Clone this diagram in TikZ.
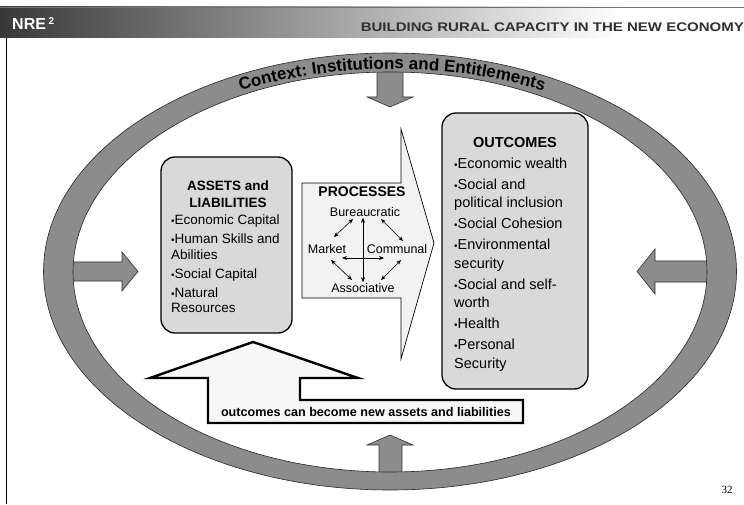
\documentclass[tikz,border=0pt]{standalone}
\usepackage{fontspec}
\setmainfont{Liberation Sans}
\newfontfamily\pagenumfont{Liberation Serif}
\usetikzlibrary{arrows.meta,calc,decorations.text}
\definecolor{ringgray}{HTML}{8C8C8C}
\definecolor{boxgray}{HTML}{D9D9D9}
\definecolor{procfill}{HTML}{F2F2F2}
\definecolor{fbfill}{HTML}{F7F7F7}
\definecolor{hdrtext}{HTML}{303030}
\definecolor{hdrdark}{HTML}{383838}
\newcommand{\bul}{{\fontsize{10}{10}\selectfont •}}
\begin{document}
\begin{tikzpicture}[x=1pt,y=1pt,
  garrow/.style={fill=ringgray, draw=black!80, line width=0.6pt},
  roundbox/.style={draw, line width=1.3pt, fill=boxgray, rounded corners=14pt, inner sep=0pt},
  proclabel/.style={font=\fontsize{12.5}{13}\selectfont, inner sep=1pt},
  procarrow/.style={{Stealth[length=5pt,width=4pt]}-{Stealth[length=5pt,width=4pt]}, line width=0.6pt}]
\useasboundingbox (0,0) rectangle (744,504);
% header
\shade[left color=hdrdark, right color=white] (0,466) rectangle (620,497);
\draw[black!55, line width=0.7pt] (0,497) -- (744,497);
\draw[line width=0.8pt] (6,466) -- (6,0);
\node[anchor=west, text=white, font=\bfseries\fontsize{16}{16}\selectfont, inner sep=0pt] (nre) at (12,480) {NRE\,\raisebox{5pt}{\fontsize{10}{10}\selectfont 2}};
\node[anchor=east, text=hdrtext, font=\bfseries\fontsize{12.5}{12.5}\selectfont, inner sep=0pt] (hdr) at (744,477) {\scalebox{1.2}[1]{BUILDING RURAL CAPACITY IN THE NEW ECONOMY}};
\node[font=\pagenumfont\fontsize{11}{11}\selectfont, inner sep=0pt] (pg) at (727,14) {32};

\begin{scope}[shift={(0,504)}, yscale=-1]
  % grey arrows (behind the ring)
  \path[garrow] (60,262) -- (122,262) -- (122,252) -- (138,271.5) -- (122,291) -- (122,281) -- (60,281) -- cycle;
  \path[garrow] (725,261) -- (655,261) -- (655,249) -- (637,271.5) -- (655,294) -- (655,282) -- (725,282) -- cycle;
  \path[garrow] (377,62) -- (377,97) -- (367,97) -- (390,107) -- (413,97) -- (403,97) -- (403,62) -- cycle;
  \path[garrow] (379,482) -- (379,445) -- (367,445) -- (390,435) -- (413,445) -- (402,445) -- (402,482) -- cycle;
  % ring
  \path[fill=ringgray, even odd rule, draw=black!85, line width=0.6pt]
    (390,271.5) ellipse [x radius=346.5, y radius=218.5]
    (390,272) ellipse [x radius=317, y radius=200];

  % assets box
  \node[roundbox, minimum width=131pt, minimum height=176pt] (assets) at (226.5,245) {};
  \node[font=\bfseries\fontsize{13.5}{16.5}\selectfont, align=center, inner sep=0pt] (assetsT) at (228,194) {ASSETS and\\LIABILITIES};
  \node[anchor=north west, font=\fontsize{13.5}{15.5}\selectfont, align=left, inner sep=0pt] (assetsL) at (171,215)
    {\bul Economic Capital\\[3.5pt]\bul Human Skills and\\Abilities\\[3.5pt]\bul Social Capital\\[3.5pt]\bul Natural\\Resources};

  % outcomes box
  \node[roundbox, minimum width=146pt, minimum height=276pt] (out) at (515,251) {};
  \node[font=\bfseries\fontsize{14.5}{17}\selectfont, inner sep=0pt] (outT) at (515,143) {OUTCOMES};
  \node[anchor=north west, font=\fontsize{14.5}{18.5}\selectfont, align=left, inner sep=0pt] (outL) at (454,157.5)
    {\bul Economic wealth\\[2.5pt]\bul Social and\\political inclusion\\[2.5pt]\bul Social Cohesion\\[2.5pt]\bul Environmental\\security\\[2.5pt]\bul Social and self-\\worth\\[2.5pt]\bul Health\\[2.5pt]\bul Personal\\Security};

  % processes arrow
  \path[draw, line width=0.7pt, fill=procfill, line join=miter] (302,183) -- (401,183) -- (401,129) -- (434,243) -- (401,359) -- (401,298) -- (302,298) -- cycle;
  \node[font=\bfseries\fontsize{14}{14}\selectfont, inner sep=1pt] (proc) at (362,192) {PROCESSES};
  \node[proclabel] (bur) at (365,212) {Bureaucratic};
  \node[proclabel] (mkt) at (327,249) {Market};
  \node[proclabel] (com) at (397,249) {Communal};
  \node[proclabel] (ass) at (363,288) {Associative};
  \draw[procarrow] (bur.south -| ass.north) -- (ass.north);
  \draw[procarrow] ($(mkt)+(15,9)$) -- ($(com)+(-13,9)$);
  \draw[procarrow] ($(mkt)+(7,-12)$) -- ($(bur)+(-12,7)$);
  \draw[procarrow] ($(bur)+(16,7)$) -- ($(com)+(6,-8)$);
  \draw[procarrow] ($(mkt)+(4,11)$) -- ($(ass)+(-11,-8)$);
  \draw[procarrow] ($(com)+(4,11)$) -- ($(ass)+(18,-8)$);

  % feedback arrow
  \path[draw, line width=2.4pt, fill=fbfill, line join=miter]
    (253,342) -- (358,378) -- (300,378) -- (300,400) -- (523,400) -- (523,423) -- (208,423) -- (208,378) -- (150,378) -- cycle;
  \node[font=\bfseries\fontsize{12.6}{13}\selectfont, inner sep=0pt] (fb) at (366,412) {outcomes can become new assets and liabilities};
\end{scope}

% curved context text
\path[decorate, decoration={text along path, text align=center,
  text={|\bfseries\fontsize{17}{17}\selectfont|Context: Institutions and Entitlements}}]
  (392,232) ++(150:336 and 203) arc[start angle=150, end angle=30, x radius=336, y radius=203];
\end{tikzpicture}
\end{document}
